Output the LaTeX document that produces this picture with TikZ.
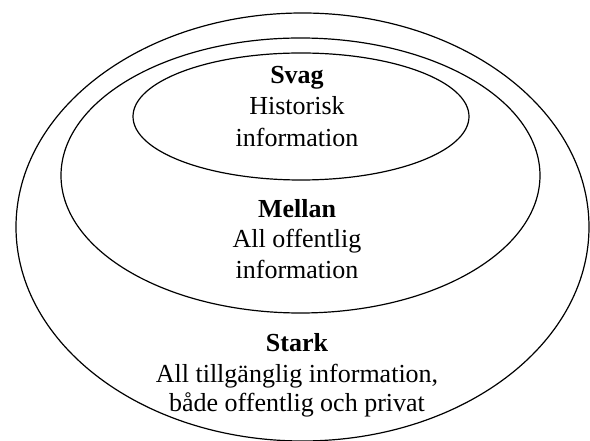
\documentclass[tikz,border=0pt]{standalone}
\usepackage{fontspec}
\setmainfont{Liberation Serif}
\usetikzlibrary{shapes.geometric}
\begin{document}
\begin{tikzpicture}[x=0.75pt,y=-0.75pt,
  ring/.style={draw=black, line width=0.9pt, ellipse, inner sep=0pt, outer sep=0pt},
  lbl/.style={anchor=base, inner sep=0pt, font=\fontsize{19.5}{23.25}\selectfont},
  head/.style={lbl, font=\fontsize{19.5}{23.25}\selectfont\bfseries}]
\useasboundingbox (0,0) rectangle (590,441);
\node[ring, minimum width=429.75pt, minimum height=321pt] (outer) at (302.5,227) {};
\node[ring, minimum width=359.25pt, minimum height=206.25pt] (middle) at (300.5,175.5) {};
\node[ring, minimum width=252pt, minimum height=95.25pt] (inner) at (301,116.5) {};
\node[head] (svag) at (297,84) {Svag};
\node[lbl] (svag1) at (297,115) {Historisk};
\node[lbl] (svag2) at (297,147) {information};
\node[head] (mellan) at (297,218) {Mellan};
\node[lbl] (mellan1) at (297,248) {All offentlig};
\node[lbl] (mellan2) at (297,279) {information};
\node[head] (stark) at (297,352) {Stark};
\node[lbl] (stark1) at (297,383) {All tillgänglig information,};
\node[lbl] (stark2) at (297,412) {både offentlig och privat};
\end{tikzpicture}
\end{document}
